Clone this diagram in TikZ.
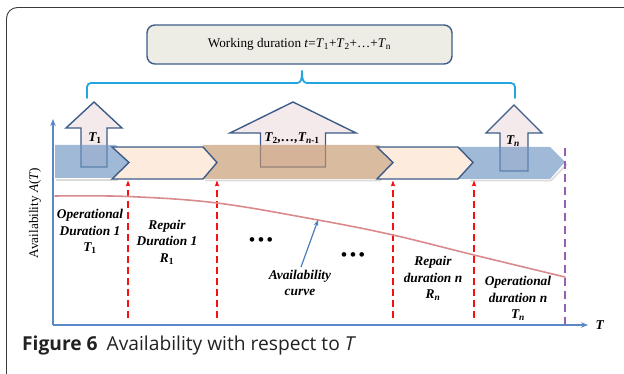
\documentclass[tikz,border=0pt]{standalone}
\usepackage{fontspec}
\setmainfont{Liberation Serif}
\newfontfamily\capfont{Open Sans}
\usetikzlibrary{arrows.meta}

\definecolor{framecol}{HTML}{3A3A3A}
\definecolor{outl}{HTML}{3D5C88}
\definecolor{boxfill}{HTML}{EEEDE5}
\definecolor{bracecol}{HTML}{22A6E0}
\definecolor{bandblue}{HTML}{6D94C2}
\definecolor{bandbrown}{HTML}{C5966D}
\definecolor{chevfill}{HTML}{FDECDD}
\definecolor{upfill}{HTML}{F4EAEC}
\definecolor{axiscol}{HTML}{5A88C6}
\definecolor{curvecol}{HTML}{D98A8C}
\definecolor{pointcol}{HTML}{4A7EBB}
\definecolor{dashred}{HTML}{F81010}
\definecolor{dashpurple}{HTML}{9460B0}
\definecolor{capcol}{HTML}{222222}

\newcommand{\sub}[1]{\textsubscript{\upshape#1}}

\tikzset{
  wboxst/.style={draw=outl, fill=boxfill, line width=1.4pt, rounded corners=8pt,
    minimum width=305pt, minimum height=39pt, inner sep=0pt,
    font=\fontsize{13.2}{15}\selectfont},
  bracest/.style={bracecol, line width=1.8pt, line cap=round, rounded corners=4pt},
  uparrow/.style={fill=upfill, draw=outl, line width=1.4pt, line join=miter},
  band/.style={fill opacity=0.65},
  bandshadow/.style={black!14, line width=1.6pt, line join=round},
  chevron/.style={fill=chevfill, draw=outl, line width=1.4pt, line join=miter},
  redarrow/.style={dashred, line width=1.2pt, dash pattern=on 7pt off 4pt,
    -{Stealth[length=6pt,width=4.5pt]}},
  lbl/.style={font=\fontsize{13.4}{16.5}\selectfont\bfseries\itshape,
    align=center, inner sep=0pt},
  axisst/.style={axiscol, line width=1.5pt, -{Stealth[length=7pt,width=5.5pt]}},
}

\begin{document}
\begin{tikzpicture}[x=1pt,y=-1pt]
\useasboundingbox (0,0) rectangle (624,374);

% outer frame
\draw[framecol, line width=0.9pt, rounded corners=11pt] (6.5,7.5) rectangle (636,386);

% working duration box and its brace
\node[wboxst] (wbox) at (299.5,44.5)
  {Working duration \textit{t}=\textit{T}\textsubscript{1}+\textit{T}\textsubscript{2}+\ldots+\textit{T}\textsubscript{n}};
\draw[bracest] (87,98) -- (87,83) -- (297,83);
\draw[bracest] (297,83) .. controls (301,83) and (302,79) .. (302,68)
               .. controls (302,79) and (303,83) .. (307,83);
\draw[bracest] (307,83) -- (515,83) -- (515,98);

% axes
\coordinate (orig) at (53,325);
\coordinate (ytop) at (53,119);
\coordinate (xend) at (588,325);
\draw[axisst] (orig) -- (ytop);
\draw[axisst] (orig) -- (xend);
\node[font=\fontsize{13.5}{15}\selectfont\bfseries\itshape, anchor=west] (xlab) at (592,325) {T};
\node[rotate=90, font=\fontsize{13.2}{15}\selectfont] (ylab) at (35,213) {Availability \textit{A}(\textit{T})};

% upward arrows for the operating periods
\draw[uparrow] (81,167) -- (81,128) -- (66,128) -- (94,102) -- (122,128) -- (107,128) -- (107,167) -- cycle;
\draw[uparrow] (260.5,167) -- (260.5,133) -- (230,133) -- (293,102) -- (356,133) -- (325.5,133) -- (325.5,167) -- cycle;
\draw[uparrow] (500,171) -- (500,133) -- (486,133) -- (514,105) -- (542,133) -- (528,133) -- (528,171) -- cycle;

% shadows under the time band
\draw[bandshadow] (56,180) -- (118,180);
\draw[bandshadow] (205,180.5) -- (380,180.5) -- (396,164);
\draw[bandshadow] (470,180.5) -- (551,180.5) -- (567,164);

% time band segments
\fill[band, bandblue] (55,145) -- (116,145) -- (131,162) -- (116,178) -- (55,178) -- cycle;
\fill[band, bandbrown] (203,145) -- (379,145) -- (395,162) -- (379,179) -- (203,179) -- cycle;
\fill[band, bandblue] (456,147) -- (550,147) -- (565,162) -- (550,179) -- (456,179) -- cycle;

% repair periods
\draw[chevron] (112,147) -- (203,147) -- (217,162.5) -- (203,179) -- (112,179) -- (129,162.5) -- cycle;
\draw[chevron] (377,147) -- (458,147) -- (473,162.5) -- (458,179) -- (377,179) -- (393,162.5) -- cycle;

% labels of the operating periods
\node[lbl] (t1) at (95,138) {T\sub{1}};
\node[lbl] (tmid) at (292,138) {T\sub{2},\ldots,T\sub{\itshape n\upshape-1}};
\node[lbl] (tn) at (513,141) {T\sub{\itshape n}};

% period boundaries
\foreach \nm/\xx in {a/128, b/217, c/393, d/474} {
  \coordinate (bot\nm) at (\xx,318);
  \coordinate (top\nm) at (\xx,180.5);
  \draw[redarrow] (bot\nm) -- (top\nm);
}
\coordinate (pbot) at (565,325);
\coordinate (ptop) at (565,147);
\draw[dashpurple, line width=1.5pt, dash pattern=on 8pt off 5pt] (pbot) -- (ptop);

% availability curve
\draw[curvecol, line width=1.6pt, line cap=round] plot[smooth, tension=0.6] coordinates
  {(55,196) (128,196.5) (217,203) (318,220) (393,235) (474,255) (565,277)};
\coordinate (cpt) at (318,220);

% period descriptions
\node[lbl] (op1) at (90,231.5) {Operational\\Duration 1\\T\sub{1}};
\node[lbl] (rep1) at (167,242) {Repair\\Duration 1\\R\sub{1}};
\node[lbl] (acurve) at (300,283) {Availability\\curve};
\node[lbl] (repn) at (433,278.5) {Repair\\duration n\\R\sub{\itshape n}};
\node[lbl] (opn) at (518,298.5) {Operational\\duration n\\T\sub{\itshape n}};
\node[font=\fontsize{17}{17}\selectfont\bfseries] (dots1) at (261,242) {\textbullet\,\textbullet\,\textbullet};
\node[font=\fontsize{17}{17}\selectfont\bfseries] (dots2) at (353,257) {\textbullet\,\textbullet\,\textbullet};
\draw[pointcol, line width=1.2pt, shorten <=3pt, -{Stealth[length=6pt,width=4.5pt]}] (acurve.north) -- (cpt);

% caption
\node[anchor=base west, inner sep=0pt, text=capcol,
  font=\capfont\fontsize{19.2}{22}\selectfont] (cap) at (22,350)
  {\textbf{Figure 6}\hspace{9pt}Availability with respect to \textit{T}};
\end{tikzpicture}
\end{document}
